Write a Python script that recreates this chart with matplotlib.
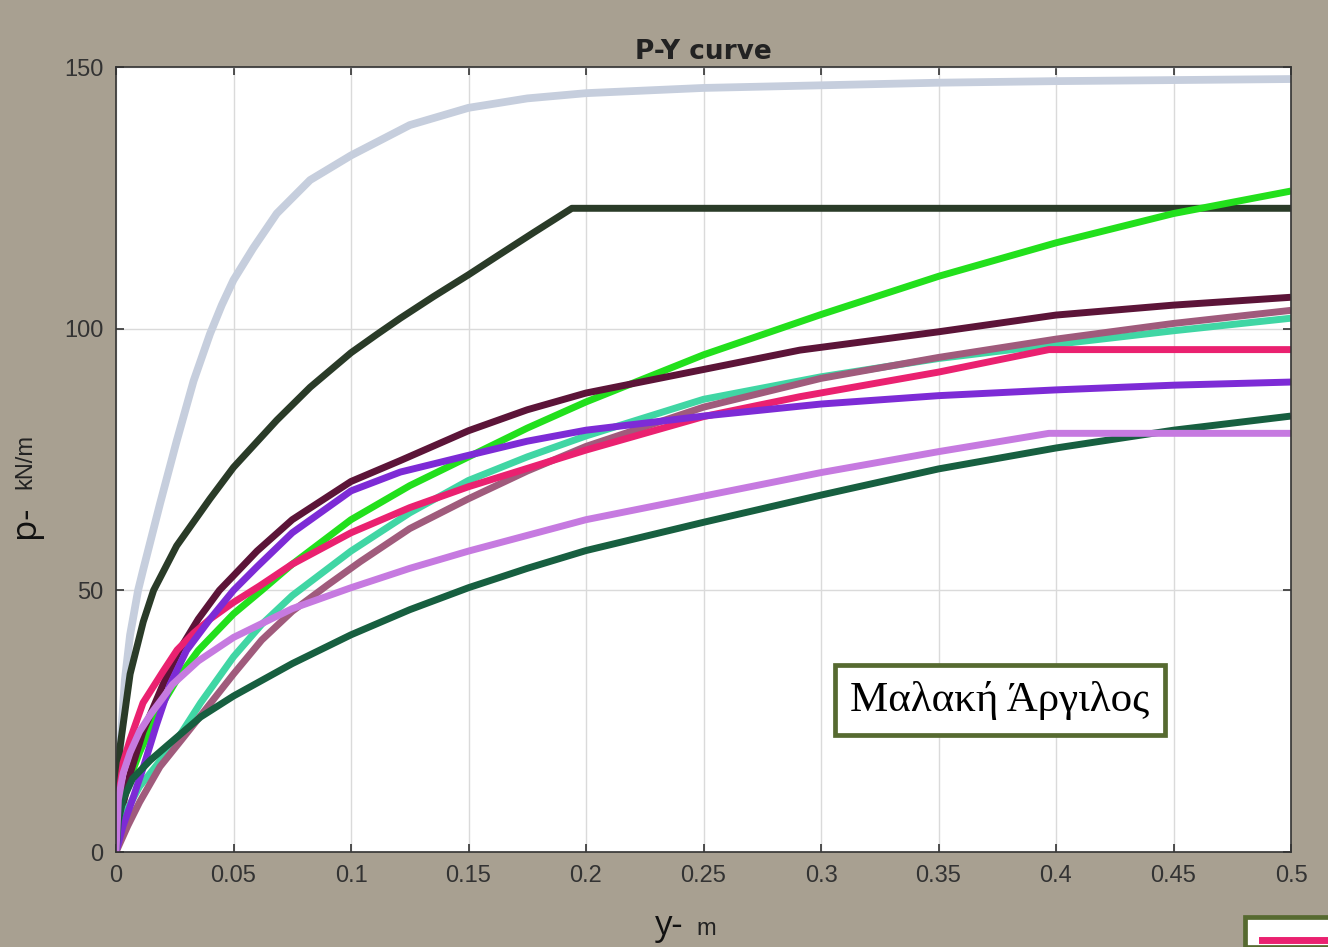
import matplotlib
matplotlib.use("Agg")
import matplotlib.pyplot as plt
from matplotlib.patches import Rectangle
from matplotlib.lines import Line2D

# ---- data ----
grey_x = [0, 0.0015, 0.0038, 0.006, 0.0094, 0.0116, 0.0187, 0.0258, 0.033, 0.04, 0.045, 0.05,
          0.0584, 0.0684, 0.0826, 0.1, 0.125, 0.15, 0.175, 0.2, 0.25, 0.3, 0.35, 0.4, 0.45, 0.5]
grey_y = [0, 18, 33, 41.5, 50, 54, 66.5, 78.5, 90, 99, 104.5, 109.3,
          115.4, 122, 128.4, 133.1, 138.9, 142.2, 144, 145, 146, 146.5, 147, 147.3, 147.5, 147.7]

black_x = [0, 0.0017, 0.006, 0.0116, 0.016, 0.0258, 0.0329, 0.04, 0.05, 0.0684, 0.0826, 0.1,
           0.111, 0.121, 0.135, 0.15, 0.163, 0.1775, 0.194, 0.5]
black_y = [0, 20, 34, 44, 50, 58.5, 63, 67.5, 73.5, 82.5, 88.8, 95.4,
           98.9, 102, 106.1, 110.3, 114.1, 118.3, 123, 123]

green_x = [0, 0.002, 0.005, 0.01, 0.015, 0.02, 0.026, 0.035, 0.05, 0.062, 0.075, 0.1, 0.125,
           0.15, 0.175, 0.2, 0.25, 0.3, 0.35, 0.4, 0.45, 0.5]
green_y = [0, 8, 13, 19, 24, 28.5, 33, 38.5, 45.5, 50, 55, 63.5, 70,
           75.5, 81, 86, 95, 102.7, 110, 116.4, 122, 126.3]

maroon_x = [0, 0.001, 0.003, 0.006, 0.0115, 0.02, 0.027, 0.035, 0.044, 0.05, 0.06, 0.075, 0.1,
            0.121, 0.15, 0.175, 0.2, 0.25, 0.291, 0.35, 0.4, 0.45, 0.5]
maroon_y = [0, 4, 9, 15, 23, 32, 38.6, 44.5, 50, 52.8, 57.5, 63.5, 70.8,
            74.8, 80.5, 84.5, 87.7, 92.2, 95.9, 99.4, 102.6, 104.5, 106]

turq_x = [0, 0.003, 0.01, 0.018, 0.026, 0.036, 0.05, 0.062, 0.075, 0.1, 0.125, 0.15, 0.175,
          0.2, 0.25, 0.3, 0.35, 0.4, 0.45, 0.5]
turq_y = [0, 6.7, 12.5, 17, 21.5, 28.5, 37.3, 43.5, 49, 57.5, 64.8, 71, 75.5,
          79.5, 86.5, 90.8, 94.3, 97, 99.6, 102]

mauve_x = [0, 0.005, 0.01, 0.0187, 0.028, 0.037, 0.05, 0.062, 0.075, 0.09, 0.104, 0.125, 0.15,
           0.175, 0.2, 0.25, 0.3, 0.35, 0.4, 0.45, 0.5]
mauve_y = [0, 5, 9.5, 16.3, 21.5, 26.6, 34, 40.5, 46, 51, 55.5, 61.8, 67.5,
           72.8, 77.5, 85, 90.5, 94.5, 98, 101, 103.5]

pink_x = [0, 0.001, 0.003, 0.006, 0.0115, 0.02, 0.026, 0.033, 0.04, 0.05, 0.061, 0.075, 0.1,
          0.125, 0.15, 0.2, 0.25, 0.291, 0.35, 0.397, 0.5]
pink_y = [0, 10, 17, 21.5, 28.5, 34.5, 38.6, 41.8, 44.5, 47.7, 50.8, 55, 61,
          65.8, 69.8, 76.8, 83.2, 87, 91.7, 96, 96]

purple_x = [0, 0.003, 0.007, 0.0115, 0.017, 0.023, 0.03, 0.04, 0.05, 0.06, 0.075, 0.1, 0.121,
            0.15, 0.175, 0.2, 0.25, 0.3, 0.35, 0.4, 0.45, 0.5]
purple_y = [0, 5, 10, 16, 24, 32, 38.5, 44.5, 50, 54.5, 61, 69, 72.6,
            75.8, 78.5, 80.6, 83.3, 85.6, 87.2, 88.3, 89.2, 89.8]

dgreen_x = [0, 0.001, 0.003, 0.007, 0.0145, 0.0217, 0.036, 0.05, 0.075, 0.1, 0.125, 0.15,
            0.175, 0.2, 0.25, 0.3, 0.35, 0.4, 0.45, 0.5]
dgreen_y = [0, 6, 10, 14, 17.5, 20.3, 25.8, 29.8, 36, 41.5, 46.3, 50.5,
            54.2, 57.6, 63, 68.2, 73.2, 77.2, 80.6, 83.3]

lpurple_x = [0, 0.001, 0.003, 0.006, 0.01, 0.015, 0.02, 0.024, 0.035, 0.05, 0.075, 0.1, 0.125,
             0.15, 0.2, 0.25, 0.3, 0.35, 0.397, 0.5]
lpurple_y = [0, 10, 15, 19, 23, 26.5, 29.5, 32, 36.5, 41, 46.5, 50.5, 54.2,
             57.5, 63.5, 68, 72.5, 76.5, 80, 80]

x_ticks = [0, 0.05, 0.1, 0.15, 0.2, 0.25, 0.3, 0.35, 0.4, 0.45, 0.5]
x_tick_labels = ["0", "0.05", "0.1", "0.15", "0.2", "0.25", "0.3", "0.35", "0.4", "0.45", "0.5"]
y_ticks = [0, 50, 100, 150]
y_tick_labels = ["0", "50", "100", "150"]

series = [
    (grey_x, grey_y, "#c6cedd", 5.6),
    (black_x, black_y, "#2a3b28", 5.0),
    (green_x, green_y, "#22e01c", 5.0),
    (maroon_x, maroon_y, "#5c1438", 5.0),
    (turq_x, turq_y, "#40d6a4", 5.0),
    (mauve_x, mauve_y, "#a05b7c", 5.0),
    (pink_x, pink_y, "#ea2170", 5.0),
    (purple_x, purple_y, "#7d2bd6", 5.0),
    (dgreen_x, dgreen_y, "#175f40", 5.0),
    (lpurple_x, lpurple_y, "#c67ae0", 5.0),
]

BG = "#a8a091"
TXT = "#333333"

fig = plt.figure(figsize=(13.28, 9.47), dpi=100, facecolor=BG)
ax = fig.add_axes([116 / 1328, 1 - 852 / 947, 1175 / 1328, 785 / 947])
ax.set_facecolor("white")

for xs, ys, c, lw in series:
    ax.plot(xs, ys, color=c, lw=lw, solid_joinstyle="round", solid_capstyle="butt")

ax.set_xlim(0, 0.5)
ax.set_ylim(0, 150)
ax.set_xticks(x_ticks)
ax.set_xticklabels(x_tick_labels)
ax.set_yticks(y_ticks)
ax.set_yticklabels(y_tick_labels)
ax.grid(True, color="#dadada", lw=1.0)
ax.set_axisbelow(True)
ax.tick_params(direction="in", length=6, width=1.2, top=True, right=True,
               labelsize=17, labelcolor=TXT, color="#333333", pad=9)
for lab in ax.get_xticklabels() + ax.get_yticklabels():
    lab.set_fontfamily("Liberation Sans")
for s in ax.spines.values():
    s.set_color("#333333")
    s.set_linewidth(1.2)

ax.set_title("P-Y curve", fontsize=19, fontweight="bold", family="DejaVu Sans",
             color="#222222", pad=6)

# axis labels (two-part, as in the reference)
fig.text(25 / 1328, 1 - 522 / 947, "p-", rotation=90, fontsize=25, family="Open Sans",
         color="#111111", ha="center", va="center")
fig.text(25 / 1328, 1 - 461 / 947, "kN/m", rotation=90, fontsize=17, family="Liberation Sans",
         color="#222222", ha="center", va="center")
fig.text(669 / 1328, 1 - 926 / 947, "y-", fontsize=25, family="Open Sans",
         color="#111111", ha="center", va="center")
fig.text(706 / 1328, 1 - 929 / 947, "m", fontsize=17, family="Liberation Sans",
         color="#222222", ha="center", va="center")

# annotation box
ax.text(0.752, 0.1936, "Μαλακή Άργιλος", transform=ax.transAxes, fontsize=31,
        family="Liberation Serif", ha="center", va="center", color="black",
        bbox=dict(boxstyle="square,pad=0.36", facecolor="white", edgecolor="#566a30", lw=3.4))

# partial legend box at bottom-right corner
fig.patches.append(Rectangle((1245 / 1328, 0), 100 / 1328, (947 - 917) / 947,
                             transform=fig.transFigure, facecolor="white",
                             edgecolor="#566a30", lw=3.4, zorder=5))
fig.lines.append(Line2D([1262 / 1328, 1330 / 1328], [1 - 940 / 947, 1 - 940 / 947],
                        transform=fig.transFigure, color="#ea2170", lw=5, zorder=6))

fig.savefig("out.png", dpi=100, facecolor=BG)
